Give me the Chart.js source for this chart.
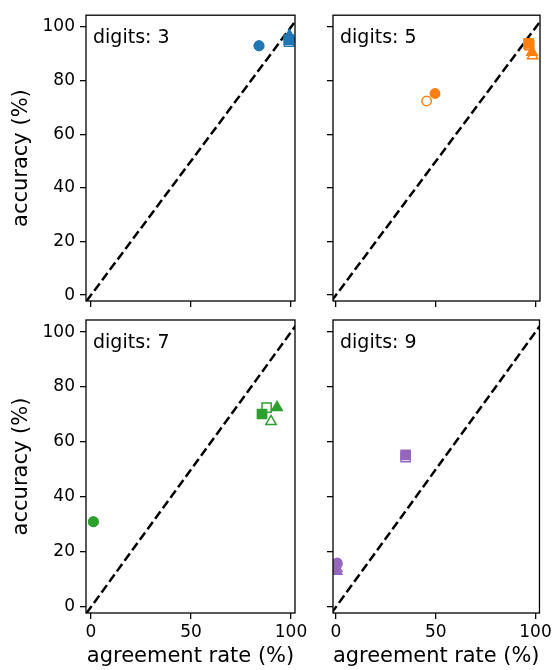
<!DOCTYPE html>
<html>
<head>
<meta charset="utf-8">
<script src="https://cdn.jsdelivr.net/npm/chart.js@4.4.1/dist/chart.umd.min.js"></script>
<style>
  html, body { margin: 0; padding: 0; background: #fff; }
  #wrap { position: relative; width: 555px; height: 670px; overflow: hidden; }
  #wrap canvas { position: absolute; left: 0; top: 0; }
</style>
</head>
<body>
<div id="wrap">
  <canvas id="c0" width="555" height="670"></canvas>
  <canvas id="c1" width="555" height="670"></canvas>
  <canvas id="c2" width="555" height="670"></canvas>
  <canvas id="c3" width="555" height="670"></canvas>
</div>
<script>
// one entry per panel: digits 3, 5, 7, 9
const digitCounts = [3, 5, 7, 9];
const panelColors = ['#1f77b4', '#ff7f0e', '#2ca02c', '#9467bd'];

const xTicks = [0, 50, 100];
const yTicks = [0, 20, 40, 60, 80, 100];

// agreement rate (x) and accuracy (y), in %
const circleFilledX = [84, 49.5, 1.2, 0.6];
const circleFilledY = [93, 75.2, 31, 16];
const circleOpenX = [84, 45.3, 1.2, 0.6];
const circleOpenY = [93, 72.4, 31, 15.5];
const squareFilledX = [98.9, 96.3, 85.5, 34.9];
const squareFilledY = [95.3, 93.9, 70.2, 55.3];
const squareOpenX = [99, 96.6, 87.8, 34.9];
const squareOpenY = [94.5, 93.2, 72.5, 54.5];
const triangleFilledX = [99.2, 98, 93, 0.3];
const triangleFilledY = [96.8, 90.6, 72.6, 13];
const triangleOpenX = [99.6, 98.3, 90, 0.4];
const triangleOpenY = [95.8, 89.3, 67.5, 14];

const xMinByCol = [-2.5, -1.5];
const xMax = 102;
const yMin = -2.2;
const yMax = 104.4;

// axes boxes in page pixels
const panels = [
    { left: 86, top: 8, right: 295, bottom: 301 },
    { left: 333, top: 8, right: 540, bottom: 301 },
    { left: 86, top: 320, right: 295, bottom: 613 },
    { left: 333, top: 320, right: 540, bottom: 613 },
];

const PAGE_W = 555, PAGE_H = 670;
const TICK_FONT = 17;
const LABEL_FONT = 21;
const NOTE_FONT = 19;

Chart.defaults.font.family = "'DejaVu Sans', sans-serif";
Chart.defaults.color = '#000';

const framePlugin = {
    id: 'frame',
    afterDraw(chart, args, opts) {
        const a = chart.chartArea;
        const ctx = chart.ctx;
        ctx.save();
        ctx.strokeStyle = '#000';
        ctx.lineWidth = 1.3;
        ctx.strokeRect(a.left, a.top, a.right - a.left, a.bottom - a.top);
        ctx.fillStyle = '#000';
        ctx.font = NOTE_FONT + "px 'DejaVu Sans'";
        ctx.textBaseline = 'alphabetic';
        ctx.textAlign = 'left';
        ctx.fillText(opts.text, a.left + 7, a.top + 28);
        ctx.restore();
    }
};

function pts(xs, ys, i) {
    return [{ x: xs[i], y: ys[i] }];
}

function makePanel(i) {
    const p = panels[i];
    const col = i % 2;
    const isLeft = col === 0;
    const isBottom = i >= 2;
    const color = panelColors[i];
    const yW = isLeft ? p.left : 20;
    const xH = isBottom ? PAGE_H - p.bottom : 10;

    const filled = { backgroundColor: color, borderColor: color, pointBorderWidth: 1.5 };
    const open = { backgroundColor: '#fff', borderColor: color, pointBorderWidth: 1.5 };

    new Chart(document.getElementById('c' + i), {
        type: 'scatter',
        data: {
            datasets: [
                Object.assign({ data: pts(circleFilledX, circleFilledY, i), pointStyle: 'circle', pointRadius: 4.7 }, filled),
                Object.assign({ data: pts(squareFilledX, squareFilledY, i), pointStyle: 'rect', pointRadius: 6.5 }, filled),
                Object.assign({ data: pts(triangleFilledX, triangleFilledY, i), pointStyle: 'triangle', pointRadius: 6 }, filled),
                Object.assign({ data: pts(circleOpenX, circleOpenY, i), pointStyle: 'circle', pointRadius: 4.7 }, open),
                Object.assign({ data: pts(squareOpenX, squareOpenY, i), pointStyle: 'rect', pointRadius: 6.5 }, open),
                Object.assign({ data: pts(triangleOpenX, triangleOpenY, i), pointStyle: 'triangle', pointRadius: 6 }, open),
                {
                    type: 'line',
                    data: [{ x: -10, y: -10 }, { x: 110, y: 110 }],
                    borderColor: '#000',
                    borderWidth: 2.5,
                    borderDash: [9, 4],
                    pointRadius: 0,
                    fill: false
                }
            ]
        },
        options: {
            responsive: false,
            animation: false,
            events: [],
            layout: {
                autoPadding: false,
                padding: {
                    left: p.left - yW,
                    top: p.top,
                    right: PAGE_W - p.right,
                    bottom: PAGE_H - p.bottom - xH
                }
            },
            plugins: {
                legend: { display: false },
                tooltip: { enabled: false },
                frame: { text: 'digits: ' + digitCounts[i] }
            },
            scales: {
                x: {
                    type: 'linear',
                    min: xMinByCol[col],
                    max: xMax,
                    afterFit: s => { s.height = xH; },
                    afterBuildTicks: s => { s.ticks = xTicks.map(v => ({ value: v })); },
                    border: { display: false },
                    grid: { drawOnChartArea: false, drawTicks: true, tickLength: 6, color: '#000', lineWidth: 1.3 },
                    ticks: {
                        padding: 3,
                        maxRotation: 0,
                        autoSkip: false,
                        font: { size: TICK_FONT },
                        color: '#000',
                        callback: v => isBottom ? String(v) : ''
                    },
                    title: {
                        display: isBottom,
                        text: 'agreement rate (%)',
                        font: { size: LABEL_FONT },
                        color: '#000',
                        padding: { top: 0, bottom: 1 }
                    }
                },
                y: {
                    type: 'linear',
                    min: yMin,
                    max: yMax,
                    afterFit: s => { s.width = yW; },
                    afterBuildTicks: s => { s.ticks = yTicks.map(v => ({ value: v })); },
                    border: { display: false },
                    grid: { drawOnChartArea: false, drawTicks: true, tickLength: 6, color: '#000', lineWidth: 1.3 },
                    ticks: {
                        padding: 5,
                        autoSkip: false,
                        font: { size: TICK_FONT },
                        color: '#000',
                        callback: v => isLeft ? String(v) : ''
                    },
                    title: {
                        display: isLeft,
                        text: 'accuracy (%)',
                        font: { size: LABEL_FONT },
                        color: '#000',
                        padding: { top: 9, bottom: 0 }
                    }
                }
            }
        },
        plugins: [framePlugin]
    });
}

for (let i = 0; i < 4; i++) makePanel(i);
</script>
</body>
</html>
